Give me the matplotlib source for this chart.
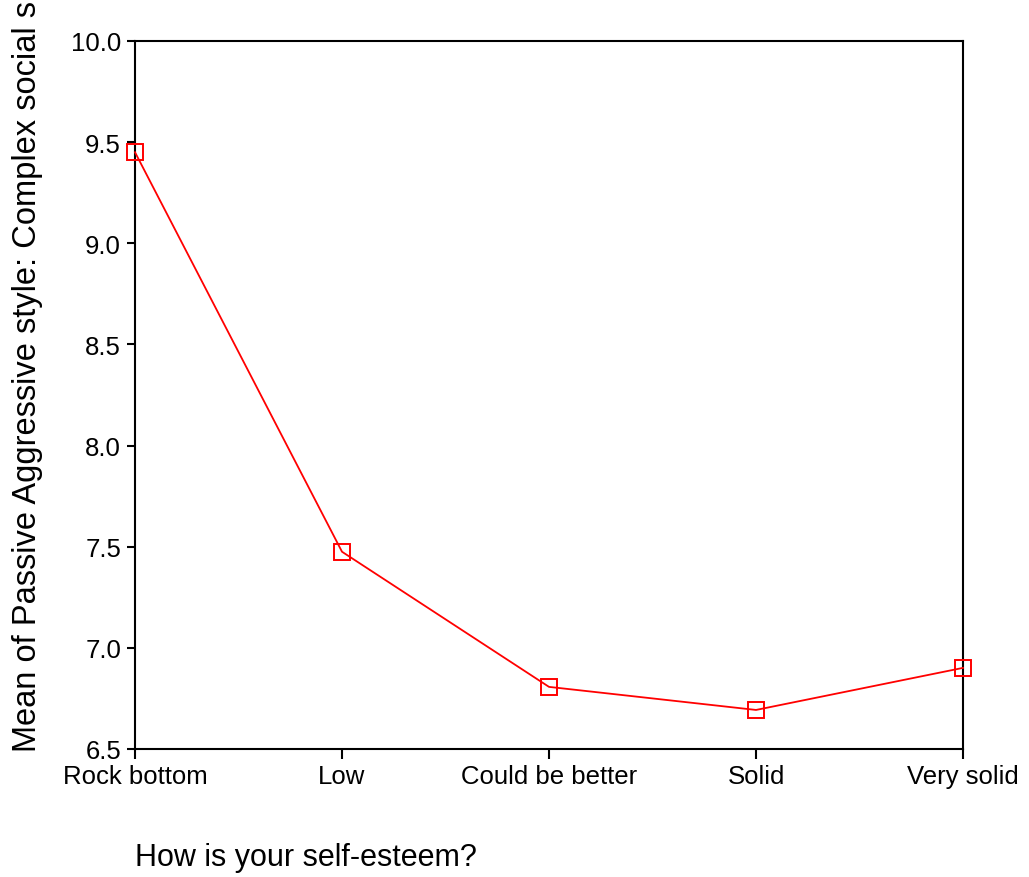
import numpy as np
import matplotlib.pyplot as plt

plt.rcParams['font.family'] = ['Liberation Sans', 'DejaVu Sans']

#Values:
categories = ["Rock bottom", "Low", "Could be better", "Solid", "Very solid"]
means = [9.45, 7.475, 6.807, 6.693, 6.901]
yticks = [6.5, 7.0, 7.5, 8.0, 8.5, 9.0, 9.5, 10.0]

fig = plt.figure(figsize=(10.29, 8.78), dpi=100)
ax = fig.add_axes([0.1312, 0.1458, 0.8047, 0.8064])

xs = np.arange(len(categories))
ax.plot(xs, means, color='red', linewidth=1.3, marker='s', markersize=11,
        markerfacecolor='none', markeredgecolor='red', markeredgewidth=1.4,
        clip_on=False, zorder=3)

ax.set_xlim(0, len(categories) - 1)
ax.set_ylim(6.5, 10.0)
ax.set_xticks(xs)
ax.set_xticklabels(categories, fontsize=18.5)
ax.set_yticks(yticks)
ax.set_yticklabels([f"{v:.1f}" for v in yticks], fontsize=18.5)
ax.tick_params(axis='x', direction='out', length=7, width=1.5, pad=4)
ax.tick_params(axis='y', direction='out', length=6, width=1.5, pad=4)
for s in ax.spines.values():
    s.set_linewidth(1.5)

fig.text(135 / 1029, 1 - 858 / 878, "How is your self-esteem?", fontsize=22,
         ha='left', va='center')
# the long y label runs off the top of the figure, as in the original
fig.text(28 / 1029, 1 - 752 / 878,
         "Mean of Passive Aggressive style: Complex social situations",
         fontsize=23.5, rotation=90, ha='center', va='bottom')

fig.savefig("out.png", dpi=100)
